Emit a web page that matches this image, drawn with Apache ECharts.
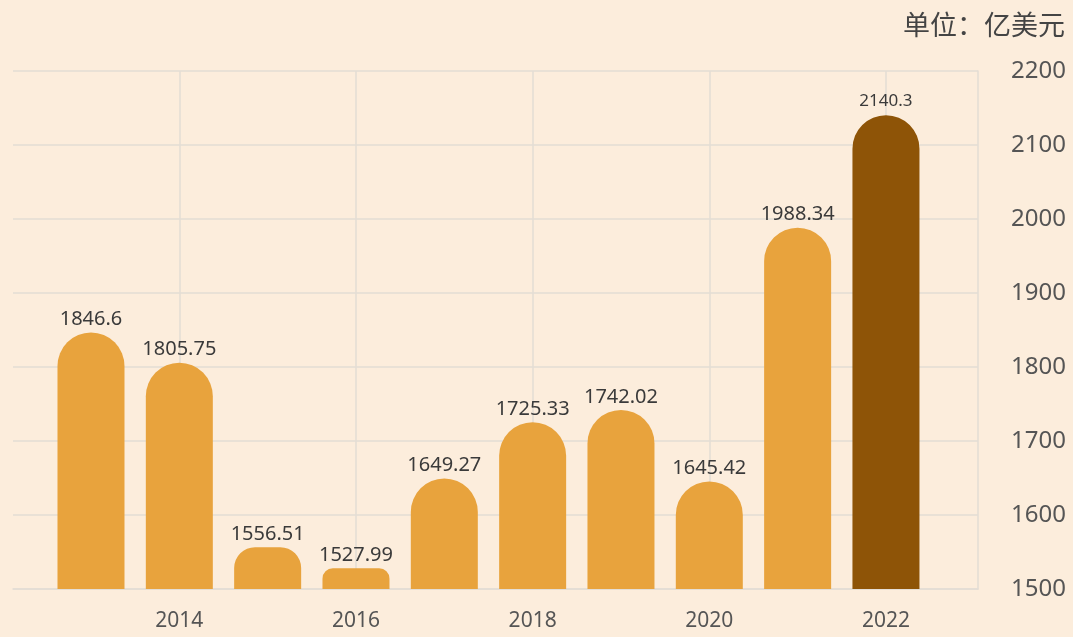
<!DOCTYPE html>
<html>
<head>
<meta charset="utf-8">
<script src="https://cdn.jsdelivr.net/npm/echarts@6/dist/echarts.min.js"></script>
<style>
html,body{margin:0;padding:0;background:#FCEDDC;}
#c{width:1073px;height:637px;}
</style>
</head>
<body>
<div id="c"></div>
<script>
const years = [2013, 2014, 2015, 2016, 2017, 2018, 2019, 2020, 2021, 2022];
const values = [1846.6, 1805.75, 1556.51, 1527.99, 1649.27, 1725.33, 1742.02, 1645.42, 1988.34, 2140.3];
const xTickYears = [2014, 2016, 2018, 2020, 2022];
const yTicks = [1500, 1600, 1700, 1800, 1900, 2000, 2100, 2200];
const unitText = '单位：亿美元';

const FONT = "'Noto Sans', 'Noto Sans CJK SC', sans-serif";
const BAR = '#E8A33D';
const BAR_LAST = '#8E5407';
const GRIDLINE = '#E3DDD5';
const BAR_W = 67;

const chart = echarts.init(document.getElementById('c'), null, {renderer: 'canvas'});

function buildData(radii) {
  return years.map((y, i) => {
    const last = i === years.length - 1;
    const r = radii ? radii[i] : BAR_W / 2;
    return {
      value: [y, values[i]],
      itemStyle: {color: last ? BAR_LAST : BAR, borderRadius: [r, r, 0, 0]},
      label: last ? {fontSize: 17, distance: 6} : {}
    };
  });
}

const option = {
  backgroundColor: '#FCEDDC',
  animation: false,
  title: {
    text: unitText,
    right: 3,
    top: 9,
    textStyle: {fontFamily: FONT, fontSize: 27, fontWeight: 'normal', color: '#444'}
  },
  grid: {left: 13, right: 95, top: 71, bottom: 48},
  xAxis: {
    type: 'value',
    min: 2012.117,
    max: 2023.042,
    axisLine: {show: true, lineStyle: {color: GRIDLINE, width: 1.5}},
    axisTick: {show: false, customValues: xTickYears},
    axisLabel: {
      customValues: xTickYears,
      fontFamily: FONT, fontSize: 21, color: '#555', margin: 22,
      formatter: v => String(v)
    },
    splitLine: {show: true, lineStyle: {color: GRIDLINE, width: 1.5}}
  },
  yAxis: {
    type: 'value',
    position: 'right',
    min: 1500,
    max: 2200,
    interval: 100,
    axisLine: {show: true, lineStyle: {color: GRIDLINE, width: 1.5}},
    axisTick: {show: false},
    axisLabel: {fontFamily: FONT, fontSize: 24, color: '#555', margin: 33,
      formatter: v => String(v)},
    splitLine: {show: true, lineStyle: {color: GRIDLINE, width: 1.5}}
  },
  series: [{
    type: 'bar',
    barWidth: BAR_W,
    data: buildData(null),
    label: {
      show: true,
      position: 'top',
      distance: 3,
      fontFamily: FONT,
      fontSize: 20,
      color: '#3A3A3A',
      formatter: p => String(p.value[1])
    }
  }]
};
chart.setOption(option);

// adjust corner radius so short bars keep a gentle rounding
const radii = years.map((y, i) => {
  const top = chart.convertToPixel({gridIndex: 0}, [y, values[i]])[1];
  const bottom = chart.convertToPixel({gridIndex: 0}, [y, yTicks[0]])[1];
  return Math.min(BAR_W / 2, (bottom - top) / 2);
});
chart.setOption({series: [{data: buildData(radii)}]});
</script>
</body>
</html>
